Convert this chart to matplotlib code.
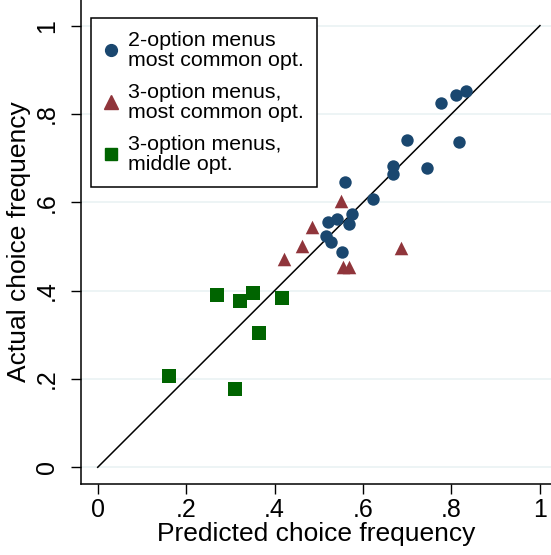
import matplotlib
matplotlib.use('Agg')
import matplotlib.pyplot as plt
from matplotlib.lines import Line2D

# ── Data ──────────────────────────────────────────────────────────────────────
two_x = [0.776, 0.810, 0.833, 0.699, 0.816, 0.668, 0.668, 0.745, 0.560, 0.622,
         0.574, 0.540, 0.520, 0.568, 0.516, 0.527, 0.553]
two_y = [0.824, 0.842, 0.852, 0.740, 0.737, 0.682, 0.664, 0.677, 0.647, 0.607,
         0.573, 0.562, 0.556, 0.550, 0.524, 0.509, 0.487]

three_x = [0.551, 0.485, 0.463, 0.421, 0.686, 0.555, 0.569]
three_y = [0.602, 0.545, 0.502, 0.471, 0.496, 0.453, 0.453]

mid_x = [0.270, 0.322, 0.352, 0.417, 0.365, 0.162, 0.311]
mid_y = [0.390, 0.376, 0.394, 0.383, 0.303, 0.206, 0.177]

ticks = [0, 0.2, 0.4, 0.6, 0.8, 1]
tick_labels = ['0', '.2', '.4', '.6', '.8', '1']

NAVY = '#1a476f'
MAROON = '#90353b'
GREEN = '#006400'

plt.rcParams['font.family'] = ['Liberation Sans', 'DejaVu Sans']

# ── Plot ──────────────────────────────────────────────────────────────────────
fig = plt.figure(figsize=(5.51, 5.55), dpi=100)
ax = fig.add_axes([0.147, 0.128, 0.853, 0.872])

ax.set_xlim(-0.0378, 1.025)
ax.set_ylim(-0.0378, 1.058)

for t in ticks:
    ax.axhline(t, color='#eaf2f3', lw=1.2, zorder=0)

ax.plot([0, 1], [0, 1], color='black', lw=1.1, zorder=2)

ax.scatter(two_x, two_y, s=80, marker='o', color=NAVY, linewidths=0, zorder=3)
ax.scatter(three_x, three_y, s=95, marker='^', color=MAROON, linewidths=0, zorder=3)
ax.scatter(mid_x, mid_y, s=90, marker='s', color=GREEN, linewidths=0, zorder=3)

ax.set_xticks(ticks)
ax.set_xticklabels(tick_labels)
ax.set_yticks(ticks)
ax.set_yticklabels(tick_labels, rotation=90, va='center')
ax.tick_params(axis='both', direction='out', length=7, width=1, labelsize=18)
ax.tick_params(axis='x', pad=3)
ax.tick_params(axis='y', pad=9)

ax.set_xlabel('Predicted choice frequency', fontsize=19, labelpad=0)
ax.set_ylabel('Actual choice frequency', fontsize=19, labelpad=3)

for side in ['top', 'right']:
    ax.spines[side].set_visible(False)
for side in ['left', 'bottom']:
    ax.spines[side].set_linewidth(1.1)

handles = [
    Line2D([], [], marker='o', ls='', color=NAVY, markersize=8.5),
    Line2D([], [], marker='^', ls='', color=MAROON, markersize=10),
    Line2D([], [], marker='s', ls='', color=GREEN, markersize=8.5),
]
labels = ['2-option menus\nmost common opt.',
          '3-option menus,\nmost common opt.',
          '3-option menus,\nmiddle opt.']
leg = ax.legend(handles, labels, loc='upper left', bbox_to_anchor=(0.021, 0.963),
                borderaxespad=0, fancybox=False, fontsize=15.4, handlelength=0.7,
                handletextpad=0.45, labelspacing=0.6, borderpad=0.6, framealpha=1)
for txt in leg.get_texts():
    txt.set_linespacing(1.08)
leg.get_frame().set_edgecolor('black')
leg.get_frame().set_linewidth(1.1)

fig.savefig('out.png', dpi=100)
